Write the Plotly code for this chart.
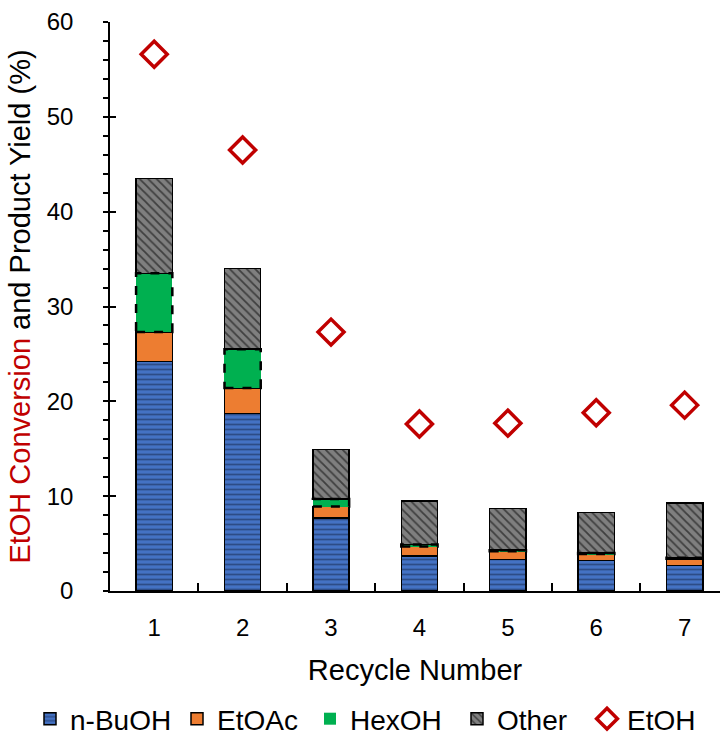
import plotly.graph_objects as go

# Recycle runs and product yields (%)
recycle = ["1", "2", "3", "4", "5", "6", "7"]
n_buoh = [24.2, 18.7, 7.7, 3.7, 3.3, 3.2, 2.7]
etoac = [3.1, 2.7, 1.2, 1.0, 0.9, 0.7, 0.7]
hexoh = [6.2, 4.1, 0.8, 0.2, 0.1, 0.1, 0.1]
other = [10.0, 8.5, 5.2, 4.6, 4.4, 4.3, 5.8]
etoh_conv = [56.6, 46.5, 27.3, 17.6, 17.7, 18.8, 19.6]

RED = "#C00000"
FONT = "Liberation Sans, Arial, sans-serif"
BAR_W = 0.41

fig = go.Figure()

fig.add_trace(go.Bar(
    x=recycle, y=n_buoh, name="n-BuOH", width=BAR_W, legend="legend",
    marker=dict(color="#4472C4", line=dict(color="black", width=1.5),
                pattern=dict(shape="-", fgcolor="#16264a", bgcolor="#4472C4",
                             size=5, solidity=0.35)),
))
fig.add_trace(go.Bar(
    x=recycle, y=etoac, name="EtOAc", width=BAR_W, legend="legend2",
    marker=dict(color="#ED7D31", line=dict(color="black", width=1.5)),
))
fig.add_trace(go.Bar(
    x=recycle, y=hexoh, name="HexOH", width=BAR_W, legend="legend3",
    marker=dict(color="#00B050", line=dict(color="black", width=0)),
))
fig.add_trace(go.Bar(
    x=recycle, y=other, name="Other", width=BAR_W, legend="legend4",
    marker=dict(color="#7F7F7F", line=dict(color="black", width=1.5),
                pattern=dict(shape="\\", fgcolor="black", bgcolor="#7F7F7F",
                             size=6, solidity=0.3)),
))
fig.add_trace(go.Scatter(
    x=recycle, y=etoh_conv, name="EtOH", mode="markers", legend="legend5",
    marker=dict(symbol="diamond-open", size=20, color=RED,
                line=dict(color=RED, width=3.5)),
))

# Dashed outline around each HexOH segment
for i, (base_a, base_b, h) in enumerate(zip(n_buoh, etoac, hexoh)):
    y0 = base_a + base_b
    fig.add_shape(type="rect", xref="x", yref="y",
                  x0=i - BAR_W / 2, x1=i + BAR_W / 2, y0=y0, y1=y0 + h,
                  line=dict(color="black", width=2.5, dash="dash"),
                  fillcolor="rgba(0,0,0,0)", layer="above")

# One legend box per entry, laid out in a single row under the axis title
legend_left_px = [30, 177, 310, 457, 587]
legend_style = dict(orientation="h", xref="container", yref="container",
                    xanchor="left", y=0.031, yanchor="middle",
                    font=dict(size=28), itemwidth=30, borderwidth=0,
                    bgcolor="rgba(0,0,0,0)")
legends = {}
for k, left in enumerate(legend_left_px):
    key = "legend" if k == 0 else f"legend{k + 1}"
    legends[key] = dict(legend_style, x=left / 720)

fig.update_layout(
    barmode="stack",
    width=720, height=742,
    margin=dict(l=110, r=0, t=22, b=151, autoexpand=False),
    paper_bgcolor="white", plot_bgcolor="white",
    font=dict(family=FONT, size=24, color="black"),
    showlegend=True,
    **legends,
    xaxis=dict(
        type="category", range=[-0.5, 6.4], automargin=False,
        showline=True, linecolor="black", linewidth=1.5,
        ticks="inside", tickson="boundaries", ticklen=8, tickwidth=1.5,
        tickcolor="black", showgrid=False, zeroline=False,
        ticklabelstandoff=14,
        title=dict(text="Recycle Number", font=dict(size=29), standoff=20),
        tickfont=dict(size=24),
    ),
    yaxis=dict(
        range=[0, 60], dtick=10, automargin=False,
        showline=True, linecolor="black", linewidth=1.5,
        ticks="outside", ticklen=5, tickwidth=1.5, tickcolor="black",
        minor=dict(dtick=2, ticks="outside", ticklen=5, tickwidth=1.5,
                   tickcolor="black"),
        showgrid=False, zeroline=False,
        ticklabelstandoff=25,
        tickfont=dict(size=24),
        title=dict(text=f"<span style='color:{RED}'>EtOH Conversion</span> and Product Yield (%)",
                   font=dict(size=29), standoff=8),
    ),
    yaxis2=dict(
        overlaying="y", range=[0, 60], dtick=10, side="left",
        ticks="inside", ticklen=6, tickwidth=1.5, tickcolor="black",
        showticklabels=False, showgrid=False, zeroline=False, showline=False,
    ),
)

# Invisible trace to activate the overlaid axis carrying inner major ticks
fig.add_trace(go.Scatter(x=[recycle[0]], y=[0], yaxis="y2", mode="markers",
                         marker=dict(opacity=0), showlegend=False, hoverinfo="skip"))

fig.write_html("out.html")
